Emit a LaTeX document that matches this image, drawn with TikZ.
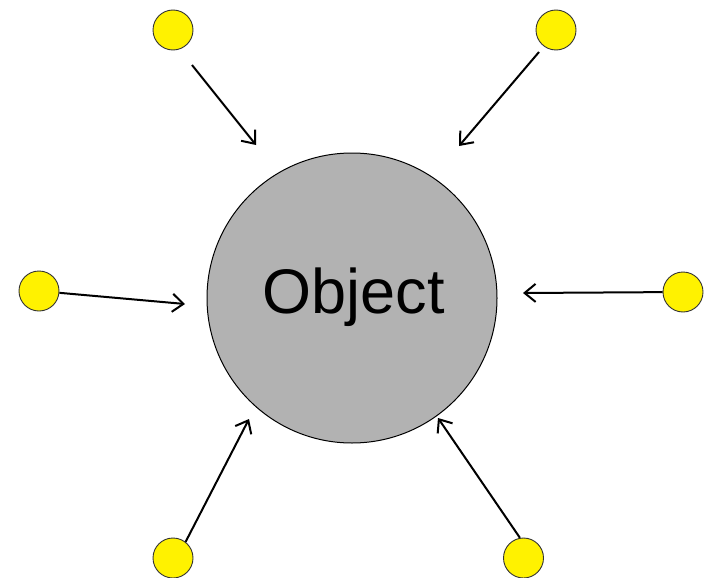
\documentclass[tikz,border=0pt]{standalone}
\usepackage{fontspec}
\setmainfont{Liberation Sans}
\usetikzlibrary{arrows.meta}
\begin{document}
\begin{tikzpicture}[x=1pt,y=-1pt,
  source/.style={circle,draw=black!80,line width=0.9pt,fill=yellow,minimum size=40pt,inner sep=0pt},
  body/.style={circle,draw=black,line width=1pt,fill=black!30,minimum size=290pt,inner sep=0pt},
  arr/.style={-{Straight Barb[length=11pt,width=18pt,line width=2pt]},line width=2pt,black}]
  \useasboundingbox (0,0) rectangle (704,578);

  % central object
  \node[body] (obj) at (352,298) {};
  \node[anchor=base,font=\fontsize{63}{70}\selectfont] (label) at (353.5,313) {Object};

  % surrounding sources
  \node[source] (y1) at (173,30) {};
  \node[source] (y2) at (556,30) {};
  \node[source] (y3) at (39,291) {};
  \node[source] (y4) at (683,292) {};
  \node[source] (y5) at (173,558) {};
  \node[source] (y6) at (523.5,558) {};

  % arrow start points set apart from the upper sources
  \coordinate (s1) at (192,65);
  \coordinate (s2) at (539,52);

  % arrow ends near the object
  \coordinate (e1) at (256,145);
  \coordinate (e2) at (459,146);
  \coordinate (e3) at (185,304);
  \coordinate (e4) at (523,293);
  \coordinate (e5) at (249,419);
  \coordinate (e6) at (438,418);

  \draw[arr] (s1) -- (e1);
  \draw[arr] (s2) -- (e2);
  \draw[arr] (y3) -- (e3);
  \draw[arr] (y4) -- (e4);
  \draw[arr] (y5.52) -- (e5);
  \draw[arr] (y6.100) -- (e6);
\end{tikzpicture}
\end{document}
